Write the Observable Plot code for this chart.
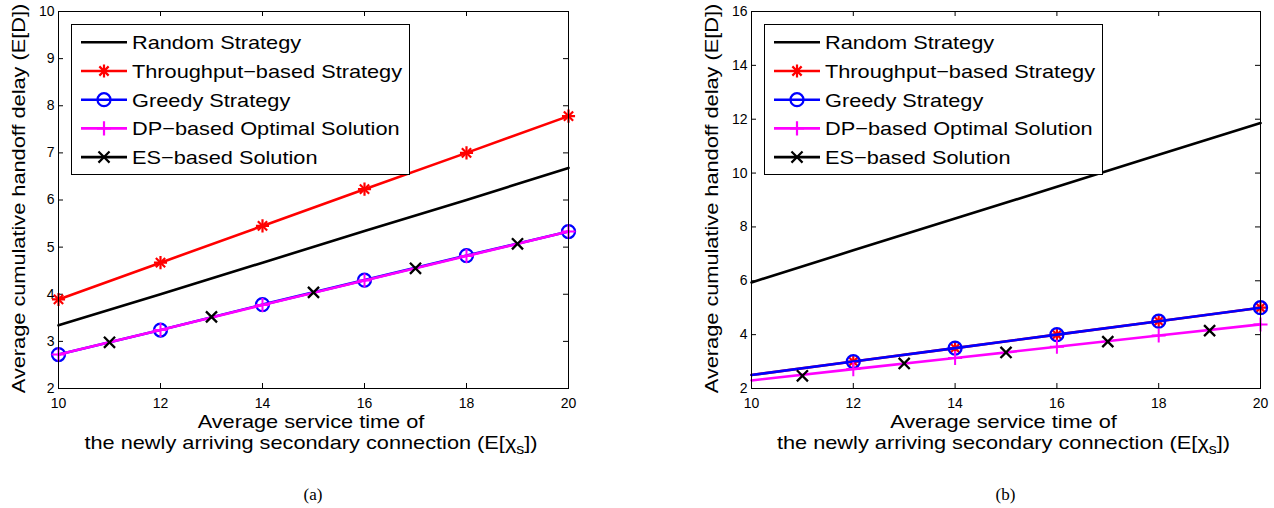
<!DOCTYPE html>
<html><head><meta charset="utf-8">
<script src="https://cdn.jsdelivr.net/npm/d3@7"></script>
<script src="https://cdn.jsdelivr.net/npm/@observablehq/plot@0.6"></script>
<style>
body{margin:0;background:#fff;}
#wrap{position:relative;width:1274px;height:508px;background:#fff;}
#wrap svg{position:absolute;top:0;overflow:visible;}
</style></head><body><div id="wrap"></div>
<script>
// ---- data ----
const xEven = [10, 12, 14, 16, 18, 20];
const xOdd = [11, 13, 15, 17, 19];
const xTicks = [10, 12, 14, 16, 18, 20];
const yTicksA = [2, 3, 4, 5, 6, 7, 8, 9, 10];
const yTicksB = [2, 4, 6, 8, 10, 12, 14, 16];

// panel (a)
const randomA = [3.34, 4.0, 4.67, 5.34, 6.0, 6.68];
const throughputA = [3.89, 4.67, 5.45, 6.23, 7.0, 7.78];
const greedyA = [2.72, 3.24, 3.78, 4.30, 4.82, 5.33];
const dpA = [2.72, 3.24, 3.77, 4.29, 4.81, 5.33];
const esA = [2.98, 3.52, 4.04, 4.55, 5.07];

// panel (b)
const randomB = [5.94, 7.13, 8.31, 9.49, 10.68, 11.86];
const throughputB = [2.5, 3.0, 3.5, 4.0, 4.5, 5.0];
const greedyB = [2.5, 3.0, 3.5, 4.0, 4.5, 5.0];
const dpB = [2.30, 2.72, 3.13, 3.55, 3.97, 4.38];
const esB = [2.47, 2.93, 3.34, 3.74, 4.15];

const legendLabels = ["Random Strategy", "Throughput\u2212based Strategy", "Greedy Strategy", "DP\u2212based Optimal Solution", "ES\u2212based Solution"];
const yLabel = "Average cumulative handoff delay (E[D])";
const xLabel1 = "Average service time of";
const xLabel2 = "the newly arriving secondary connection (E[\u03c7";
const captions = ["(a)", "(b)"];

// ---- helpers ----
const rows = (xs, ys) => xs.map((x, i) => ({x, y: ys[i]}));
const W = 637, H = 508;
const SANS = "'Liberation Sans', Arial, Helvetica, sans-serif";
const STRETCH = 1.145;
const R = {circle: 6.5, plus: 4.6, times: 5.1, starP: 4.3, starT: 4.3};

function makePanel(cfg) {
  const {mL, mR, mT, mB, yDomain, yTicks, d, markStart, caption} = cfg;
  const pw = W - mL - mR, ph = H - mT - mB;
  const sl = a => a.slice(markStart);
  const xm = xEven.slice(markStart);
  const marks = [
    Plot.tickX(xTicks, {x: v => v, insetTop: ph - 5, stroke: "black", strokeWidth: 1}),
    Plot.tickX(xTicks, {x: v => v, insetBottom: ph - 5, stroke: "black", strokeWidth: 1}),
    Plot.tickY(yTicks, {y: v => v, insetRight: pw - 5, stroke: "black", strokeWidth: 1}),
    Plot.tickY(yTicks, {y: v => v, insetLeft: pw - 5, stroke: "black", strokeWidth: 1}),
    Plot.axisX({ticks: xTicks, tickSize: 0, tickPadding: 10, fontSize: 14, label: null}),
    Plot.axisY({ticks: yTicks, tickSize: 0, tickPadding: 4, fontSize: 14, label: null}),
    // Random
    Plot.line(rows(xEven, d.random), {x: "x", y: "y", stroke: "black", strokeWidth: 2.6}),
    // Throughput
    Plot.line(rows(xEven, d.throughput), {x: "x", y: "y", stroke: "#ff0000", strokeWidth: 2.6}),
    Plot.dot(rows(xm, sl(d.throughput)), {x: "x", y: "y", symbol: "plus", r: R.starP, stroke: "#ff0000", strokeWidth: 2.2}),
    Plot.dot(rows(xm, sl(d.throughput)), {x: "x", y: "y", symbol: "times", r: R.starT, stroke: "#ff0000", strokeWidth: 2.2}),
    // Greedy
    Plot.line(rows(xEven, d.greedy), {x: "x", y: "y", stroke: "#0000ff", strokeWidth: 2.6}),
    Plot.dot(rows(xm, sl(d.greedy)), {x: "x", y: "y", symbol: "circle", r: R.circle, stroke: "#0000ff", fill: "none", strokeWidth: 2.3}),
    // DP
    Plot.line(rows(xEven, d.dp), {x: "x", y: "y", stroke: "#ff00ff", strokeWidth: 2.6}),
    Plot.dot(rows(xm, sl(d.dp)), {x: "x", y: "y", symbol: "plus", r: R.plus, stroke: "#ff00ff", strokeWidth: 2}),
    // ES
    Plot.dot(rows(xOdd, d.es), {x: "x", y: "y", symbol: "times", r: R.times, stroke: "black", strokeWidth: 2.3}),
    Plot.frame({stroke: "black", strokeWidth: 1})
  ];
  const svg = Plot.plot({
    width: W, height: H,
    marginLeft: mL, marginRight: mR, marginTop: mT, marginBottom: mB,
    x: {domain: [10, 20]},
    y: {domain: yDomain},
    style: {fontFamily: SANS, fontSize: "14px", color: "black", background: "white", overflow: "visible"},
    marks
  });
  const g = d3.select(svg).append("g").attr("font-family", SANS).attr("fill", "black");
  const cx = mL + pw / 2;
  // y label
  g.append("text")
    .attr("transform", `translate(${mL - 33},${mT + ph / 2 - 1}) rotate(-90) scale(${STRETCH},1)`)
    .attr("text-anchor", "middle").attr("font-size", 19).text(yLabel);
  // x label
  g.append("text")
    .attr("transform", `translate(${cx - 2},428) scale(${STRETCH},1)`)
    .attr("text-anchor", "middle").attr("font-size", 19).text(xLabel1);
  const t2 = g.append("text")
    .attr("transform", `translate(${cx - 2},449) scale(${STRETCH},1)`)
    .attr("text-anchor", "middle").attr("font-size", 19);
  t2.append("tspan").text(xLabel2);
  t2.append("tspan").attr("font-size", 14).attr("dy", 5).text("s");
  t2.append("tspan").attr("dy", -5).text("])");
  // caption
  g.append("text").attr("x", cx).attr("y", 500).attr("text-anchor", "middle")
    .attr("font-family", "'Liberation Serif', 'Times New Roman', serif").attr("font-size", 17).text(caption);
  // legend
  const lx = mL + 13, ly = 24, lw = 338, lh = 150;
  const lg = g.append("g");
  lg.append("rect").attr("x", lx + 0.5).attr("y", ly + 0.5).attr("width", lw).attr("height", lh)
    .attr("fill", "white").attr("stroke", "black").attr("stroke-width", 1);
  const items = [
    {color: "black", sym: []},
    {color: "#ff0000", sym: [[d3.symbolPlus, R.starP], [d3.symbolTimes, R.starT]]},
    {color: "#0000ff", sym: [[d3.symbolCircle, R.circle]]},
    {color: "#ff00ff", sym: [[d3.symbolPlus, R.plus]]},
    {color: "black", sym: [[d3.symbolTimes, R.times]]}
  ];
  items.forEach((it, i) => {
    const yy = ly + 18.3 + i * 28.7;
    lg.append("line").attr("x1", lx + 10).attr("x2", lx + 56).attr("y1", yy).attr("y2", yy)
      .attr("stroke", it.color).attr("stroke-width", 2.6);
    it.sym.forEach(([s, r]) => {
      lg.append("path").attr("d", d3.symbol(s, r * r * Math.PI)())
        .attr("transform", `translate(${lx + 33},${yy})`)
        .attr("fill", "none").attr("stroke", it.color).attr("stroke-width", 2.2);
    });
    lg.append("text").attr("transform", `translate(${lx + 61},${yy + 6.8}) scale(${STRETCH},1)`)
      .attr("text-anchor", "start").attr("font-size", 19).text(legendLabels[i]);
  });
  return svg;
}

const wrap = document.getElementById("wrap");
const svgA = makePanel({mL: 58, mR: 69, mT: 11, mB: 120, yDomain: [2, 10], yTicks: yTicksA,
  d: {random: randomA, throughput: throughputA, greedy: greedyA, dp: dpA, es: esA}, markStart: 0, caption: captions[0]});
svgA.style.left = "0px";
wrap.appendChild(svgA);
const svgB = makePanel({mL: 114, mR: 14, mT: 11, mB: 120, yDomain: [2, 16], yTicks: yTicksB,
  d: {random: randomB, throughput: throughputB, greedy: greedyB, dp: dpB, es: esB}, markStart: 1, caption: captions[1]});
svgB.style.left = "637px";
wrap.appendChild(svgB);
</script>
</body></html>
